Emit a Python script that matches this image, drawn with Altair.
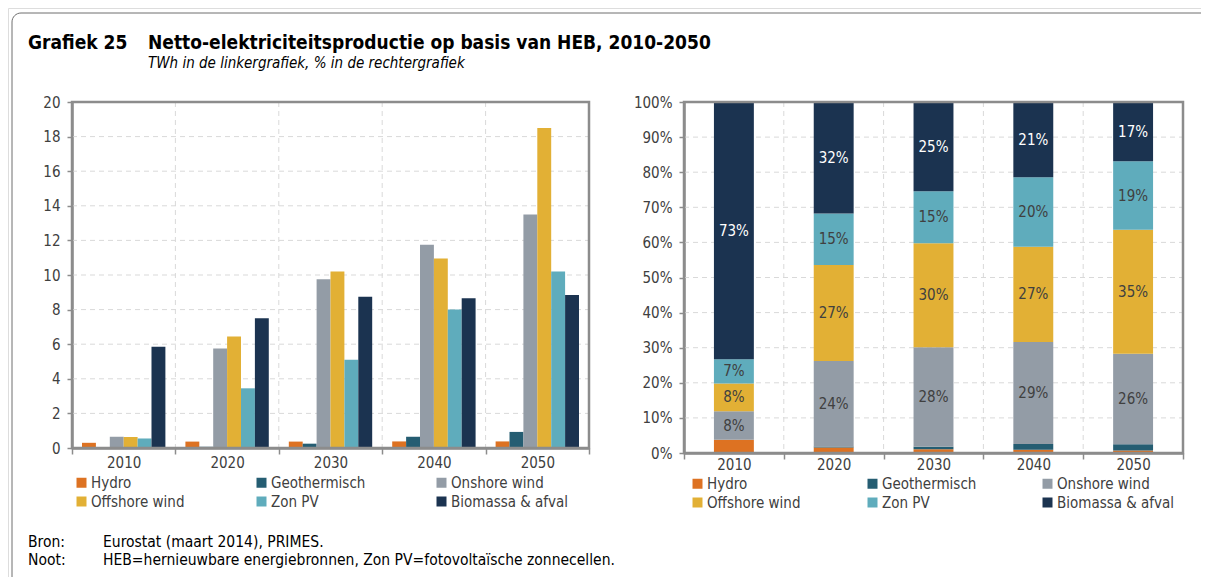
import altair as alt
import pandas as pd

# ---------------- data ----------------
years = ["2010", "2020", "2030", "2040", "2050"]
series = ["Hydro", "Geothermisch", "Onshore wind", "Offshore wind", "Zon PV", "Biomassa & afval"]
colors = ["#DD7222", "#255D72", "#939CA6", "#E2B035", "#5FACBC", "#1B3350"]

hydro = [0.30, 0.37, 0.37, 0.38, 0.38]
geothermisch = [0.00, 0.07, 0.25, 0.65, 0.93]
onshore_wind = [0.65, 5.75, 9.75, 11.75, 13.50]
offshore_wind = [0.63, 6.45, 10.20, 10.95, 18.50]
zon_pv = [0.55, 3.45, 5.10, 8.00, 10.20]
biomassa_afval = [5.85, 7.50, 8.75, 8.65, 8.85]

left_ticks = [0, 2, 4, 6, 8, 10, 12, 14, 16, 18, 20]
right_ticks = [0, 0.1, 0.2, 0.3, 0.4, 0.5, 0.6, 0.7, 0.8, 0.9, 1.0]

title_num = "Grafiek 25"
title_main = "Netto-elektriciteitsproductie op basis van HEB, 2010-2050"
subtitle = "TWh in de linkergrafiek, % in de rechtergrafiek"
note_labels = ["Bron:", "Noot:"]
note_texts = ["Eurostat (maart 2014), PRIMES.",
              "HEB=hernieuwbare energiebronnen, Zon PV=fotovoltaïsche zonnecellen."]

columns = [hydro, geothermisch, onshore_wind, offshore_wind, zon_pv, biomassa_afval]
rows = []
for si, (s, vals) in enumerate(zip(series, columns)):
    for y, v in zip(years, vals):
        rows.append({"year": y, "series": s, "idx": si, "value": v})
df = pd.DataFrame(rows)

# ---------------- style ----------------
FONT = "DejaVu Sans Condensed"
TXT = "#404040"
AXC = "#8C8C8C"
GRID = "#D9D9D9"
W, H = 1193, 569
FS = 15

# plot areas (view coordinates)
LX0, LX1, LY0, LY1 = 64, 581, 94, 440
RX0, RX1, RY0, RY1 = 676, 1175, 94, 445

one = pd.DataFrame({"a": [0]})


def text_at(txt, x, y, size=14, weight="normal", style="normal", color="#000000"):
    return alt.Chart(one).mark_text(
        text=txt, align="left", baseline="alphabetic", font=FONT,
        fontSize=size, fontWeight=weight, fontStyle=style, color=color
    ).encode(x=alt.value(x), y=alt.value(y))


def y_axis(offset, fmt=None, values=None):
    kw = dict(orient="left", offset=offset, title=None, values=values,
              labelFont=FONT, labelFontSize=FS, labelColor=TXT, labelPadding=7,
              tickSize=5, tickColor=AXC, tickWidth=1.5, domainColor=AXC, domainWidth=2.5,
              grid=False)
    if fmt:
        kw["format"] = fmt
    return alt.Axis(**kw)


def x_axis(offset, pad):
    return alt.Axis(orient="bottom", offset=offset, title=None, labelAngle=0,
                    labelFont=FONT, labelFontSize=FS, labelColor=TXT, labelPadding=pad,
                    tickBand="extent", tickSize=6, tickColor=AXC, tickWidth=1.5,
                    domainColor=AXC, domainWidth=2.5, grid=False)


def legend(x, y, pad):
    return alt.Legend(orient="none", legendX=x, legendY=y, columns=3, direction="horizontal",
                      gridAlign="all", columnPadding=pad, rowPadding=3, title=None,
                      symbolType="square", symbolSize=100, symbolStrokeWidth=0,
                      labelFont=FONT, labelFontSize=FS, labelColor=TXT, labelOffset=2)


def rule_style():
    return dict(color=GRID, strokeDash=[5, 4], strokeWidth=1)


color_scale = alt.Scale(domain=series, range=colors)

# ---------------- left panel ----------------
xs_l = alt.Scale(domain=years, range=[LX0, LX1], paddingInner=0, paddingOuter=0)
ys_l = alt.Scale(domain=[0, 20], range=[LY1, LY0], nice=False)

grid_h_l = alt.Chart(pd.DataFrame({"v": left_ticks[1:-1]})).mark_rule(**rule_style()).encode(
    y=alt.Y("v:Q", scale=ys_l, axis=None), x=alt.value(LX0), x2=alt.value(LX1))

grid_v_l = alt.Chart(pd.DataFrame({"year": years})).mark_rule(**rule_style()).transform_filter(
    alt.datum.year != years[0]
).encode(x=alt.X("year:N", scale=xs_l, axis=None, bandPosition=0),
         y=alt.value(LY0), y2=alt.value(LY1))

box_l = alt.Chart(one).mark_rect(fillOpacity=0, stroke=AXC, strokeWidth=2.5).encode(
    x=alt.value(LX0), x2=alt.value(LX1), y=alt.value(LY0), y2=alt.value(LY1))

bars_l = alt.Chart(df).mark_bar().encode(
    x=alt.X("year:N", scale=xs_l, axis=x_axis(-(H - LY1), 1.5)),
    xOffset=alt.XOffset("series:N", scale=alt.Scale(domain=series, paddingInner=0, paddingOuter=0.72)),
    y=alt.Y("value:Q", scale=ys_l, axis=y_axis(-LX0, values=left_ticks)),
    color=alt.Color("series:N", scale=color_scale, legend=legend(66, 467, 45)),
)

# ---------------- right panel ----------------
xs_r = alt.Scale(domain=years, range=[RX0, RX1], paddingInner=0.6, paddingOuter=0.3)
xs_r_grid = alt.Scale(domain=years, range=[RX0, RX1], paddingInner=0, paddingOuter=0)
ys_r = alt.Scale(domain=[0, 1], range=[RY1, RY0], nice=False)

grid_h_r = alt.Chart(pd.DataFrame({"v": right_ticks[1:-1]})).mark_rule(**rule_style()).encode(
    y=alt.Y("v:Q", scale=ys_r, axis=None), x=alt.value(RX0), x2=alt.value(RX1))

grid_v_r = alt.Chart(pd.DataFrame({"year": years})).mark_rule(**rule_style()).transform_filter(
    alt.datum.year != years[0]
).encode(x=alt.X("year:N", scale=xs_r_grid, axis=x_axis(-(H - RY1), -2), bandPosition=0),
         y=alt.value(RY0), y2=alt.value(RY1))

bars_r = alt.Chart(df).mark_bar().encode(
    x=alt.X("year:N", scale=xs_r, axis=None),
    y=alt.Y("value:Q", stack="normalize", scale=ys_r,
            axis=y_axis(-RX0, fmt=".0%", values=right_ticks)),
    order=alt.Order("idx:Q", sort="ascending"),
    color=alt.Color("series:N", scale=color_scale, legend=legend(682, 468, 40)),
)

labels_r = alt.Chart(df).transform_stack(
    stack="value", groupby=["year"], sort=[alt.SortField("idx", order="ascending")],
    offset="normalize", as_=["s0", "s1"]
).transform_calculate(
    mid="(datum.s0 + datum.s1) / 2",
    share="datum.s1 - datum.s0",
    label="format(datum.s1 - datum.s0, '.0%')",
).transform_filter("datum.share >= 0.05").mark_text(font=FONT, fontSize=FS).encode(
    x=alt.X("year:N", scale=xs_r, axis=None),
    y=alt.Y("mid:Q", scale=ys_r, axis=None),
    text="label:N",
    color=alt.when(alt.datum.series == "Biomassa & afval").then(alt.value("white")).otherwise(alt.value(TXT)),
)

box_r = alt.Chart(one).mark_rect(fillOpacity=0, stroke=AXC, strokeWidth=2.5).encode(
    x=alt.value(RX0), x2=alt.value(RX1), y=alt.value(RY0), y2=alt.value(RY1))

# ---------------- frame & texts ----------------
frame = alt.Chart(one).mark_rect(fillOpacity=0, stroke="#6F6F6F", strokeWidth=1, cornerRadius=9).encode(
    x=alt.value(4), x2=alt.value(1400), y=alt.value(5), y2=alt.value(800))

texts = [
    text_at(title_num, 20, 41, size=19, weight="bold"),
    text_at(title_main, 140, 41, size=19, weight="bold"),
    text_at(subtitle, 140, 60, size=15, style="italic"),
    text_at(note_labels[0], 20, 539, size=15.5),
    text_at(note_texts[0], 95, 539, size=15.5),
    text_at(note_labels[1], 20, 557, size=15.5),
    text_at(note_texts[1], 95, 557, size=15.5),
]

chart = alt.layer(
    frame, *texts,
    grid_h_l, grid_v_l, bars_l, box_l,
    grid_h_r, grid_v_r, bars_r, labels_r, box_r,
).resolve_scale(
    x="independent", y="independent", color="independent"
).properties(
    width=W, height=H, autosize=alt.AutoSizeParams(type="none"), padding=0
).configure_view(stroke=None).configure(background="white")

chart.save("out.html", embed_options={"renderer": "svg", "actions": False})
